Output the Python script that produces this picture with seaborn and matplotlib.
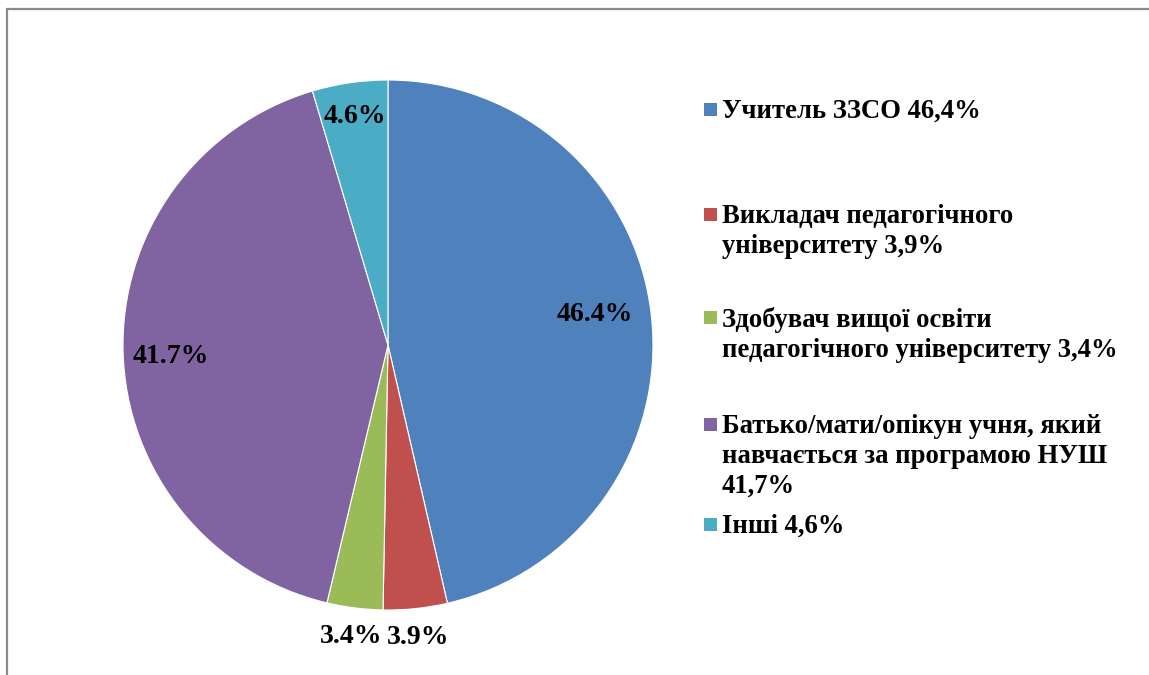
# Кругова діаграма: хто відповідав на опитування
import numpy as np
import matplotlib
matplotlib.use('Agg')
import matplotlib.pyplot as plt
from matplotlib.patches import Rectangle
import seaborn as sns

# Дані
categories = ['Учитель ЗЗСО 46,4%',
              'Викладач педагогічного\nуніверситету 3,9%',
              'Здобувач вищої освіти\nпедагогічного університету 3,4%',
              'Батько/мати/опікун учня, який\nнавчається за програмою НУШ\n41,7%',
              'Інші 4,6%']
values = [46.4, 3.9, 3.4, 41.7, 4.6]
pct_labels = ['46.4%', '3.9%', '3.4%', '41.7%', '4.6%']
colors = ['#4F81BD', '#C0504D', '#9BBB59', '#8064A2', '#4BACC6']

# Відстань підпису від центру (частка радіуса) і зсув кута, градуси
label_dist = [0.79, 1.11, 1.11, 0.82, 0.87]
label_dang = [2.0, 0.0, 0.0, 1.5, 0.0]
# Вертикальна позиція пунктів легенди (px зверху, перший рядок)
legend_y = [110, 215, 318, 425, 525]

sns.set_theme(style='white')
plt.rcParams['font.family'] = ['Liberation Serif', 'DejaVu Serif']

W, H = 1149, 675
fig = plt.figure(figsize=(W / 100, H / 100), dpi=100)

# Рамка діаграми (виходить за правий і нижній край)
fig.patches.append(Rectangle((7 / W, -0.1), 1.2, 1 - 9 / H + 0.1, transform=fig.transFigure,
                             fill=False, edgecolor='#8a8a8a', linewidth=1.6))

cx, cy, r = 388, 675 - 345, 265
ax = fig.add_axes([(cx - r) / W, (cy - r) / H, 2 * r / W, 2 * r / H])
wedges, _ = ax.pie(values, colors=sns.color_palette(colors), startangle=90, counterclock=False,
                   radius=1, wedgeprops=dict(edgecolor='white', linewidth=0.8))
ax.set_xlim(-1, 1)
ax.set_ylim(-1, 1)
ax.set_aspect('equal')
ax.axis('off')

# Підписи відсотків
for w, lab, d, da in zip(wedges, pct_labels, label_dist, label_dang):
    ang = np.deg2rad((w.theta1 + w.theta2) / 2 + da)
    ax.text(d * np.cos(ang), d * np.sin(ang), lab, ha='center', va='center',
            fontsize=20, fontweight='bold', color='black', clip_on=False)

# Легенда вручну (маркер біля першого рядка)
for lab, col, y in zip(categories, colors, legend_y):
    fig.patches.append(Rectangle((704 / W, 1 - (y + 6) / H), 13 / W, 13 / H,
                                 transform=fig.transFigure, facecolor=col, edgecolor='none'))
    fig.text(722 / W, 1 - (y - 11) / H, lab, ha='left', va='top', fontsize=19.2,
             fontweight='bold', color='black', linespacing=1.25)

fig.savefig('out.png', dpi=100)
